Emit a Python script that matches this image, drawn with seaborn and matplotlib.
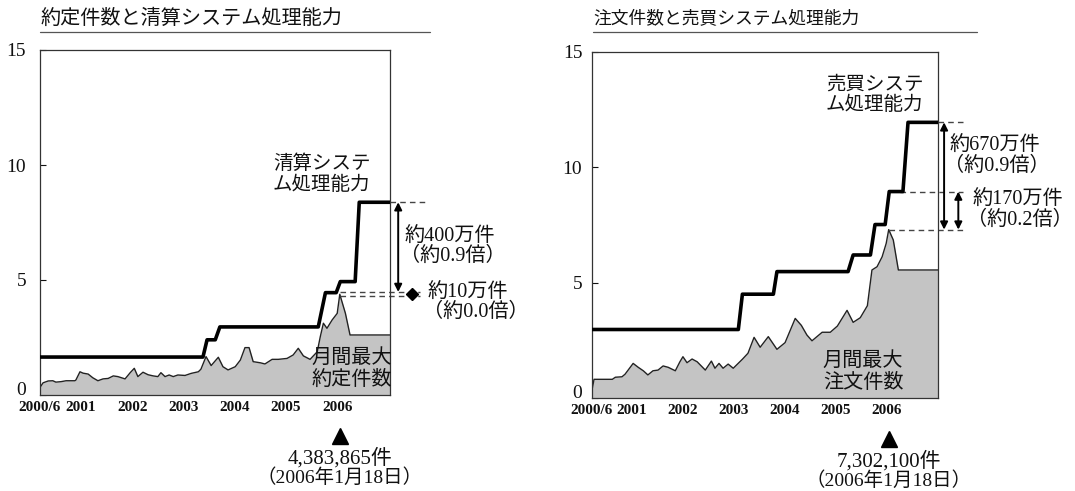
import matplotlib
matplotlib.use("Agg")
import matplotlib.pyplot as plt
import seaborn as sns
import numpy as np
from matplotlib.lines import Line2D
from matplotlib.transforms import blended_transform_factory, ScaledTranslation

sns.set_theme(style="white")
plt.rcParams['font.family'] = ['Noto Sans CJK JP', 'DejaVu Sans']

# ---------------- data (millions, decimal years) ----------------
# Left: 月間最大約定件数 / 清算システム処理能力
trade_years = [2000.20, 2000.26, 2000.36, 2000.45, 2000.51, 2000.61, 2000.71, 2000.88, 2000.90,
               2000.98, 2001.04, 2001.14, 2001.23, 2001.33, 2001.43, 2001.53, 2001.63, 2001.72,
               2001.86, 2001.96, 2002.04, 2002.11, 2002.21, 2002.31, 2002.41, 2002.50, 2002.56,
               2002.64, 2002.72, 2002.80, 2002.89, 2003.03, 2003.15, 2003.29, 2003.34, 2003.44,
               2003.54, 2003.68, 2003.77, 2003.87, 2004.01, 2004.11, 2004.20, 2004.28, 2004.36,
               2004.50, 2004.59, 2004.73, 2004.85, 2005.02, 2005.14, 2005.24, 2005.34, 2005.47,
               2005.61, 2005.67, 2005.73, 2005.80, 2005.90, 2006.00, 2006.05, 2006.16, 2006.25,
               2007.03]
trade_vals = [0.33, 0.53, 0.61, 0.62, 0.56, 0.58, 0.62, 0.62, 0.65,
              1.01, 0.95, 0.91, 0.75, 0.62, 0.70, 0.72, 0.83, 0.80,
              0.70, 0.97, 1.16, 0.80, 0.99, 0.88, 0.83, 0.80, 0.97,
              0.80, 0.87, 0.80, 0.87, 0.85, 0.94, 1.01, 1.12, 1.67,
              1.28, 1.64, 1.23, 1.09, 1.23, 1.52, 2.06, 2.06, 1.45,
              1.40, 1.35, 1.55, 1.55, 1.59, 1.74, 2.03, 1.70, 1.55,
              1.88, 2.54, 3.12, 2.90, 3.26, 3.55, 4.38, 3.55, 2.61,
              2.61]
clear_cap_years = [2000.20, 2003.38, 2003.46, 2003.62, 2003.71, 2005.63, 2005.77, 2005.98,
                   2006.06, 2006.35, 2006.43, 2007.03]
clear_cap_vals = [1.65, 1.65, 2.40, 2.40, 2.96, 2.96, 4.45, 4.45,
                  4.93, 4.93, 8.38, 8.38]
clear_cap_at_peak = 4.48

# Right: 月間最大注文件数 / 売買システム処理能力
order_years = [2000.21, 2000.25, 2000.37, 2000.61, 2000.67, 2000.80, 2000.86, 2001.02, 2001.12,
               2001.22, 2001.31, 2001.41, 2001.51, 2001.61, 2001.71, 2001.85, 2001.94, 2002.00,
               2002.08, 2002.18, 2002.28, 2002.44, 2002.56, 2002.63, 2002.71, 2002.79, 2002.89,
               2002.99, 2003.17, 2003.28, 2003.40, 2003.52, 2003.68, 2003.85, 2004.01, 2004.21,
               2004.33, 2004.44, 2004.54, 2004.74, 2004.90, 2005.04, 2005.23, 2005.35, 2005.49,
               2005.63, 2005.72, 2005.82, 2005.92, 2006.00, 2006.05, 2006.14, 2006.24, 2007.02]
order_vals = [0.35, 0.81, 0.81, 0.81, 0.90, 0.92, 1.03, 1.50, 1.33,
              1.18, 1.00, 1.18, 1.21, 1.39, 1.33, 1.18, 1.57, 1.79,
              1.53, 1.69, 1.57, 1.21, 1.60, 1.29, 1.50, 1.29, 1.47,
              1.29, 1.68, 1.94, 2.63, 2.20, 2.66, 2.11, 2.40, 3.45,
              3.15, 2.73, 2.48, 2.85, 2.85, 3.12, 3.80, 3.28, 3.48,
              4.00, 5.55, 5.69, 6.12, 6.70, 7.30, 6.85, 5.55, 5.55]
trade_cap_years = [2000.21, 2003.09, 2003.17, 2003.78, 2003.85, 2005.25, 2005.35, 2005.69,
                   2005.78, 2005.98, 2006.06, 2006.33, 2006.43, 2007.02]
trade_cap_vals = [2.97, 2.97, 4.50, 4.50, 5.48, 5.48, 6.20, 6.20,
                  7.52, 7.52, 8.95, 8.95, 11.95, 11.95]

year_ticks = [2001, 2002, 2003, 2004, 2005, 2006]
year_labels = ["2001", "2002", "2003", "2004", "2005", "2006"]
start_label = "2000/6"
y_ticks = [0, 5, 10, 15]

titles = ["約定件数と清算システム処理能力", "注文件数と売買システム処理能力"]
cap_labels = [("清算システ", "ム処理能力"), ("売買システ", "ム処理能力")]
area_labels = [("月間最大", "約定件数"), ("月間最大", "注文件数")]
peak_labels = [("4,383,865件", "（2006年1月18日）"), ("7,302,100件", "（2006年1月18日）")]
gap_labels_left = [("約400万件", "（約0.9倍）"), ("約10万件", "（約0.0倍）")]
gap_labels_right = [("約670万件", "（約0.9倍）"), ("約170万件", "（約0.2倍）")]

# ---------------- figure ----------------
W, H = 1075, 491
fig = plt.figure(figsize=(W / 100, H / 100), dpi=100)
fig.patch.set_facecolor("white")


def px(x, y):
    return x / W, 1 - y / H


ax1 = fig.add_axes([40 / W, 1 - 395 / H, 350 / W, 345 / H])
ax2 = fig.add_axes([592 / W, 1 - 398 / H, 346 / W, 346 / H])

SERIF = ['Liberation Serif', 'Noto Sans CJK JP']
CJK = ['Noto Sans CJK JP', 'DejaVu Sans']
MIX = ['Liberation Serif', 'Noto Sans CJK JP']
TXT = "#111111"


def panel(ax, yrs, vals, cyrs, cvals, xlim, ypad):
    ax.fill_between(yrs, vals, 0, color="#c4c4c4", lw=0, zorder=1)
    sns.lineplot(x=yrs, y=vals, ax=ax, color="#222222", lw=1.0,
                 estimator=None, sort=False, zorder=2)
    sns.lineplot(x=cyrs, y=cvals, ax=ax, color="black", lw=2.6,
                 estimator=None, sort=False, zorder=3)
    ax.set_xlim(*xlim)
    ax.set_ylim(0, 15)
    ax.set_xticks([xlim[0]] + year_ticks)
    ax.set_xticklabels([start_label] + year_labels, fontfamily=SERIF, fontsize=11,
                       fontweight="bold")
    ax.set_yticks(y_ticks)
    ax.set_yticklabels([str(v) for v in y_ticks], fontfamily=SERIF, fontsize=14)
    ax.tick_params(axis='x', length=0, pad=4, colors=TXT)
    ax.tick_params(axis='y', direction='in', length=4, width=0.8, pad=ypad,
                   colors=TXT, left=True)
    # lift the "0" label a little so it clears the first date label
    for lab in ax.get_yticklabels():
        if lab.get_text() == "0":
            lab.set_transform(lab.get_transform() + ScaledTranslation(0, 5 / 72, fig.dpi_scale_trans))
    for s in ax.spines.values():
        s.set_color("#333333")
        s.set_linewidth(0.9)
    ax.set_xlabel("")
    ax.set_ylabel("")
    ax.grid(False)


panel(ax1, trade_years, trade_vals, clear_cap_years, clear_cap_vals, (2000.20, 2007.03), 10)
panel(ax2, order_years, order_vals, trade_cap_years, trade_cap_vals, (2000.21, 2007.02), 7)

dash = (0, (4, 3))

# ---- left annotations ----
pk1 = int(np.argmax(trade_vals))
pk1_x, pk1_v = trade_years[pk1], trade_vals[pk1]
top1 = max(clear_cap_vals)
ax1.plot([2007.03, 2007.75], [top1, top1], ls=dash, color="#444444", lw=1, clip_on=False)
ax1.plot([pk1_x, 2007.62], [clear_cap_at_peak, clear_cap_at_peak], ls=dash, color="#444444", lw=1, clip_on=False)
ax1.plot([pk1_x, 2007.62], [pk1_v - 0.08, pk1_v - 0.08], ls=dash, color="#444444", lw=1, clip_on=False)
ax1.annotate("", xy=(2007.19, top1), xytext=(2007.19, clear_cap_at_peak),
             arrowprops=dict(arrowstyle="<|-|>", color="black", lw=1.4,
                             mutation_scale=11, shrinkA=0, shrinkB=0),
             annotation_clip=False)
ax1.plot(2007.45, (clear_cap_at_peak + pk1_v) / 2 - 0.04, marker="D", ms=6, color="black", clip_on=False)

# ---- right annotations ----
pk2 = int(np.argmax(order_vals))
pk2_x, pk2_v = order_years[pk2], order_vals[pk2]
top2 = max(trade_cap_vals)
cap_at_peak2 = trade_cap_vals[-3]
ax2.plot([2007.02, 2007.51], [top2, top2], ls=dash, color="#444444", lw=1, clip_on=False)
ax2.plot([2006.28, 2007.51], [cap_at_peak2, cap_at_peak2], ls=dash, color="#444444", lw=1, clip_on=False)
ax2.plot([pk2_x, 2007.51], [pk2_v, pk2_v], ls=dash, color="#444444", lw=1, clip_on=False)
ax2.annotate("", xy=(2007.14, top2), xytext=(2007.14, pk2_v),
             arrowprops=dict(arrowstyle="<|-|>", color="black", lw=1.4,
                             mutation_scale=11, shrinkA=0, shrinkB=0),
             annotation_clip=False)
ax2.annotate("", xy=(2007.42, cap_at_peak2), xytext=(2007.42, pk2_v),
             arrowprops=dict(arrowstyle="<|-|>", color="black", lw=1.4,
                             mutation_scale=11, shrinkA=0, shrinkB=0),
             annotation_clip=False)

# ---- peak triangles and labels ----
for ax, x, lab in [(ax1, pk1_x, peak_labels[0]), (ax2, pk2_x, peak_labels[1])]:
    tr = blended_transform_factory(ax.transData, ax.transAxes)
    ax.plot(x, -0.118, marker="^", ms=11, color="black", transform=tr, clip_on=False)
    ax.text(x, -0.182, lab[0], transform=tr, ha="center", va="center",
            fontfamily=MIX, fontsize=15, color=TXT)
    ax.text(x, -0.238, lab[1], transform=tr, ha="center", va="center",
            fontfamily=MIX, fontsize=14, color=TXT)

# ---- titles with underline ----
fig.text(*px(41, 18), titles[0], ha="left", va="center", fontfamily=CJK, fontsize=14.5, color=TXT)
fig.text(*px(593, 18), titles[1], ha="left", va="center", fontfamily=CJK, fontsize=12.8, color=TXT)
fig.add_artist(Line2D([40 / W, 430 / W], [1 - 32 / H] * 2, color="#555555", lw=0.9))
fig.add_artist(Line2D([593 / W, 977 / W], [1 - 32 / H] * 2, color="#555555", lw=0.9))

# ---- capacity labels ----
fig.text(*px(273, 163), cap_labels[0][0], ha="left", va="center", fontfamily=CJK, fontsize=14, color=TXT)
fig.text(*px(273, 184), cap_labels[0][1], ha="left", va="center", fontfamily=CJK, fontsize=14, color=TXT)
fig.text(*px(826, 84), cap_labels[1][0], ha="left", va="center", fontfamily=CJK, fontsize=14, color=TXT)
fig.text(*px(826, 105), cap_labels[1][1], ha="left", va="center", fontfamily=CJK, fontsize=14, color=TXT)

# ---- area labels ----
fig.text(*px(392, 357), area_labels[0][0], ha="right", va="center", fontfamily=CJK, fontsize=14.5, color=TXT)
fig.text(*px(392, 379), area_labels[0][1], ha="right", va="center", fontfamily=CJK, fontsize=14.5, color=TXT)
fig.text(*px(863, 360), area_labels[1][0], ha="center", va="center", fontfamily=CJK, fontsize=14.5, color=TXT)
fig.text(*px(863, 382), area_labels[1][1], ha="center", va="center", fontfamily=CJK, fontsize=14.5, color=TXT)

# ---- gap labels ----
GFS = 14.5
fig.text(*px(405, 237), gap_labels_left[0][0], ha="left", va="center", fontfamily=MIX, fontsize=GFS, color=TXT)
fig.text(*px(400, 256), gap_labels_left[0][1], ha="left", va="center", fontfamily=MIX, fontsize=GFS, color=TXT)
fig.text(*px(428, 293), gap_labels_left[1][0], ha="left", va="center", fontfamily=MIX, fontsize=GFS, color=TXT)
fig.text(*px(423, 312), gap_labels_left[1][1], ha="left", va="center", fontfamily=MIX, fontsize=GFS, color=TXT)
fig.text(*px(950, 146), gap_labels_right[0][0], ha="left", va="center", fontfamily=MIX, fontsize=GFS, color=TXT)
fig.text(*px(944, 166), gap_labels_right[0][1], ha="left", va="center", fontfamily=MIX, fontsize=GFS, color=TXT)
fig.text(*px(973, 200), gap_labels_right[1][0], ha="left", va="center", fontfamily=MIX, fontsize=GFS, color=TXT)
fig.text(*px(967, 220), gap_labels_right[1][1], ha="left", va="center", fontfamily=MIX, fontsize=GFS, color=TXT)

fig.savefig("out.png", dpi=100, facecolor="white")
